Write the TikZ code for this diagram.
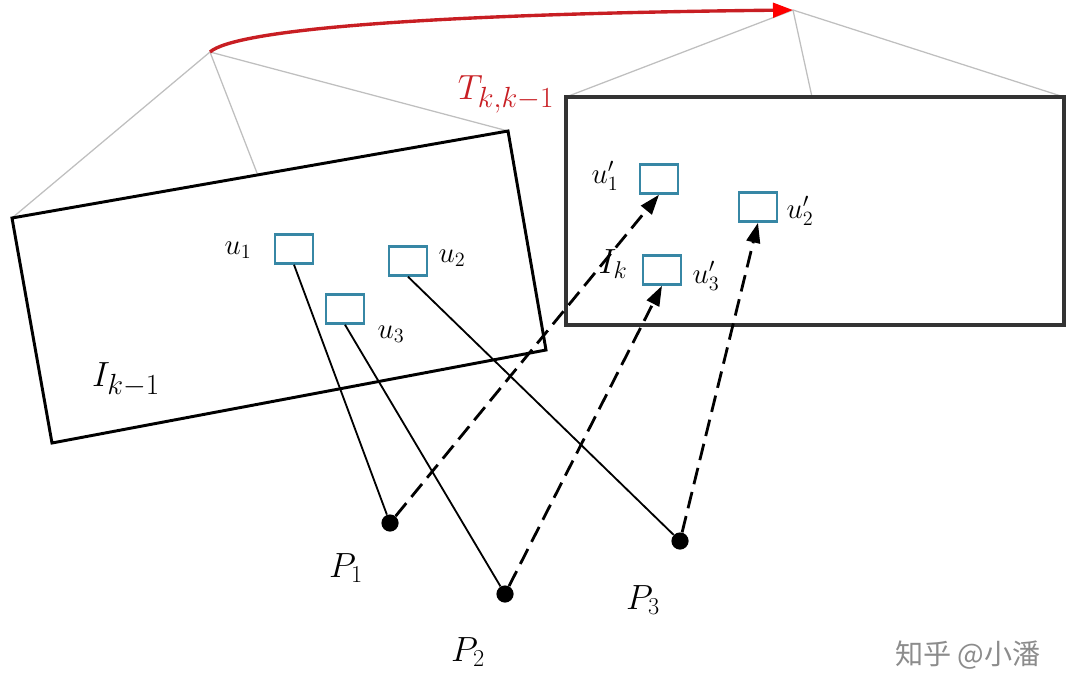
\documentclass[tikz,border=0pt]{standalone}
\usepackage{fontspec}
\newfontfamily\cjk{Noto Sans CJK SC}
\usetikzlibrary{arrows.meta}
\definecolor{boxblue}{RGB}{55,135,165}
\definecolor{arrowred}{RGB}{200,30,35}
\tikzset{
  ubox/.style={draw=boxblue,line width=1.9pt,minimum width=0.95cm,minimum height=0.72cm,inner sep=0pt},
  ptdot/.style={circle,fill=black,minimum size=0.43cm,inner sep=0pt},
  frame/.style={draw=black,line width=2.1pt,line join=miter},
  rayline/.style={draw=black!25,line width=0.9pt},
  proj/.style={draw=black,line width=1.3pt},
  reproj/.style={draw=black,line width=2pt,dash pattern=on 0.42cm off 0.2cm,-{Triangle[length=0.5cm,width=0.34cm]}},
  ulab/.style={font=\fontsize{21}{24}\selectfont,inner sep=0pt},
  plab/.style={font=\fontsize{26}{30}\selectfont,inner sep=0pt},
}
\begin{document}
\begin{tikzpicture}[x=0.025cm,y=-0.025cm]
\useasboundingbox (0,0) rectangle (1080,698);
% camera centres
\coordinate (c1) at (210,52);
\coordinate (c2) at (793,10);
% left image plane
\coordinate (a1) at (12,218);
\coordinate (a2) at (508,131);
\coordinate (a3) at (546,350);
\coordinate (a4) at (52,443);
\coordinate (am) at (257,173);
% right image plane
\coordinate (b1) at (566,97);
\coordinate (b2) at (1064,97);
\coordinate (b3) at (1064,325);
\coordinate (b4) at (566,325);
\coordinate (bm) at (812,97);
% rays
\draw[rayline] (c1) -- (a1);
\draw[rayline] (c1) -- (am);
\draw[rayline] (c1) -- (a2);
\draw[rayline] (c2) -- (b1);
\draw[rayline] (c2) -- (bm);
\draw[rayline] (c2) -- (b2);
% frames
\draw[frame] (a1) -- (a2) -- (a3) -- (a4) -- cycle;
\draw[draw=black!80,line width=2.3pt] (b1) -- (b2) -- (b3) -- (b4) -- cycle;
% transform arrow
\draw[arrowred,line width=2.4pt,-{Triangle[length=0.5cm,width=0.36cm,fill=red,color=red]}]
  (c1) .. controls (235,30) and (420,14) .. (c2);
\node[text=arrowred,font=\fontsize{28}{32}\selectfont,inner sep=0pt] (T) at (506,94) {$T_{k,k-1}$};
% frame labels
\node[plab,font=\fontsize{28}{32}\selectfont] (Ikm) at (126,380) {$I_{k-1}$};
\node[plab,font=\fontsize{25}{30}\selectfont] (Ik) at (613,264) {$I_k$};
% feature boxes
\node[ubox] (u1) at (294,249) {};
\node[ubox] (u2) at (408,261) {};
\node[ubox] (u3) at (345,309) {};
\node[ubox] (v1) at (659,179) {};
\node[ubox] (v2) at (758,207) {};
\node[ubox] (v3) at (662,270) {};
\node[ulab] (lu1) at (238,250) {$u_1$};
\node[ulab] (lu2) at (452,258) {$u_2$};
\node[ulab] (lu3) at (391,334) {$u_3$};
\node[ulab] (lv1) at (605,176) {$u'_1$};
\node[ulab] (lv2) at (800,211) {$u'_2$};
\node[ulab] (lv3) at (706,276) {$u'_3$};
% 3D points
\node[ptdot] (p1) at (390,523) {};
\node[ptdot] (p2) at (505,594) {};
\node[ptdot] (p3) at (680,541) {};
\node[plab] (lp1) at (346,568) {$P_1$};
\node[plab] (lp2) at (468,652) {$P_2$};
\node[plab] (lp3) at (643,600) {$P_3$};
% projections
\draw[proj] (u1.south) -- (p1);
\draw[proj] (u3.south) -- (p2);
\draw[proj] (u2.south) -- (p3);
% reprojections
\draw[reproj] (p1) -- (v1.south);
\draw[reproj] (p2) -- (v3.south);
\draw[reproj] (p3) -- (v2.south);
% watermark
\node[text=black!45,font=\cjk\fontsize{20}{24}\selectfont,inner sep=0pt] (wm) at (968,655) {知乎 @小潘};
\end{tikzpicture}
\end{document}
